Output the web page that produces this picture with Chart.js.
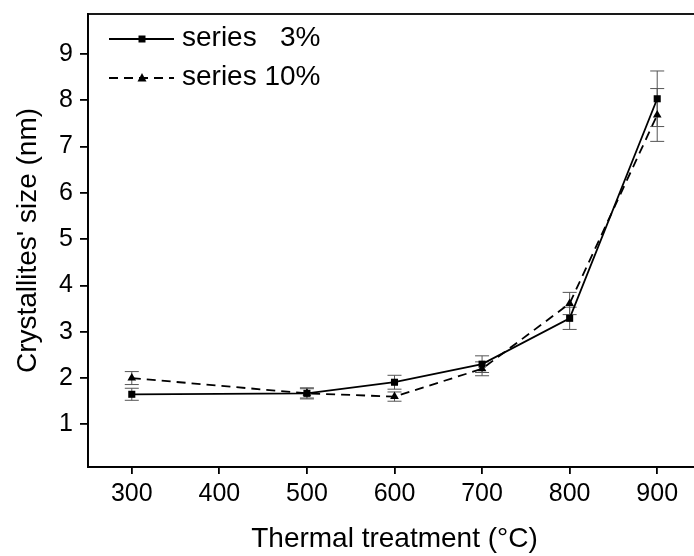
<!DOCTYPE html>
<html>
<head>
<meta charset="utf-8">
<script src="https://cdn.jsdelivr.net/npm/chart.js@4.4.1/dist/chart.umd.min.js"></script>
<style>
  html, body { margin: 0; padding: 0; background: #fff; overflow: hidden; }
  #wrap { width: 694px; height: 556px; overflow: hidden; }
</style>
</head>
<body>
<div id="wrap"><canvas id="c" width="720" height="556"></canvas></div>
<script>
// données
const temps = [300, 500, 600, 700, 800, 900];
const size3 = [1.65, 1.67, 1.91, 2.30, 3.29, 8.03];
const err3 = [0.13, 0.12, 0.15, 0.18, 0.24, 0.60];
const size10 = [2.00, 1.67, 1.60, 2.20, 3.61, 7.68];
const err10 = [0.14, 0.10, 0.10, 0.15, 0.24, 0.57];
const labels = ['series   3%', 'series 10%'];
const xTicks = [300, 400, 500, 600, 700, 800, 900];
const yTicks = [1, 2, 3, 4, 5, 6, 7, 8, 9];

const FONT = "'Liberation Sans', Arial, sans-serif";

function drawMarker(ctx, style, x, y) {
    ctx.beginPath();
    if (style === 'rect') {
        ctx.rect(x - 3.5, y - 3.5, 7, 7);
    } else {
        ctx.moveTo(x, y - 5);
        ctx.lineTo(x + 4.5, y + 3.5);
        ctx.lineTo(x - 4.5, y + 3.5);
        ctx.closePath();
    }
    ctx.fillStyle = '#000';
    ctx.fill();
}

// cadre autour de la zone du graphe
const framePlugin = {
    id: 'frame',
    afterDraw(chart) {
        const a = chart.chartArea, ctx = chart.ctx;
        ctx.save();
        ctx.strokeStyle = '#000';
        ctx.lineWidth = 1.8;
        ctx.strokeRect(a.left, a.top, a.right - a.left, a.bottom - a.top);
        ctx.restore();
    }
};

// barres d'erreur
const errorPlugin = {
    id: 'errbars',
    beforeDatasetsDraw(chart) {
        const ctx = chart.ctx, x = chart.scales.x, y = chart.scales.y;
        ctx.save();
        ctx.strokeStyle = '#555';
        ctx.lineWidth = 1;
        chart.data.datasets.forEach(ds => {
            ds.data.forEach((p, i) => {
                const e = ds.errors[i];
                const px = x.getPixelForValue(p.x);
                const top = y.getPixelForValue(p.y + e);
                const bot = y.getPixelForValue(p.y - e);
                ctx.beginPath();
                ctx.moveTo(px, top); ctx.lineTo(px, bot);
                ctx.moveTo(px - 7, top); ctx.lineTo(px + 7, top);
                ctx.moveTo(px - 7, bot); ctx.lineTo(px + 7, bot);
                ctx.stroke();
            });
        });
        ctx.restore();
    }
};

// légende dessinée à la main (ligne + marqueur)
const legendPlugin = {
    id: 'myLegend',
    afterDraw(chart) {
        const ctx = chart.ctx;
        const rows = [39, 78];
        ctx.save();
        chart.data.datasets.forEach((ds, i) => {
            const yy = rows[i];
            ctx.beginPath();
            ctx.strokeStyle = '#000';
            ctx.lineWidth = 1.8;
            ctx.setLineDash(ds.borderDash || []);
            ctx.moveTo(109, yy); ctx.lineTo(174, yy);
            ctx.stroke();
            ctx.setLineDash([]);
            drawMarker(ctx, ds.pointStyle, 142, yy);
            ctx.fillStyle = '#000';
            ctx.font = '28px ' + FONT;
            ctx.textBaseline = 'middle';
            ctx.fillText(ds.label, 182, yy - 1);
        });
        ctx.restore();
    }
};

const points = (xs, ys) => xs.map((v, i) => ({ x: v, y: ys[i] }));

new Chart(document.getElementById('c'), {
    type: 'line',
    data: {
        datasets: [
            {
                label: labels[0], data: points(temps, size3), errors: err3,
                borderColor: '#000', borderWidth: 1.8, pointStyle: 'rect',
                pointRadius: 5, pointBackgroundColor: '#000', pointBorderWidth: 0, tension: 0
            },
            {
                label: labels[1], data: points(temps, size10), errors: err10,
                borderColor: '#000', borderWidth: 1.8, borderDash: [9, 6], pointStyle: 'triangle',
                pointRadius: 5, pointBackgroundColor: '#000', pointBorderWidth: 0, tension: 0
            }
        ]
    },
    options: {
        responsive: false,
        animation: false,
        layout: { padding: { top: 14, right: 19, left: 0, bottom: 0 } },
        plugins: { legend: { display: false }, tooltip: { enabled: false } },
        scales: {
            x: {
                type: 'linear', min: 250, max: 950,
                afterBuildTicks: s => { s.ticks = xTicks.map(v => ({ value: v })); },
                afterFit: s => { s.height = 89; s.paddingLeft = 0; s.paddingRight = 0; },
                grid: { drawOnChartArea: false, drawTicks: true, tickLength: 7, color: '#000', lineWidth: 1.8 },
                border: { color: '#000', width: 1.8 },
                ticks: { color: '#000', font: { family: FONT, size: 25 }, padding: 5, maxRotation: 0 },
                title: { display: true, text: 'Thermal treatment (°C)', color: '#000', font: { family: FONT, size: 28 }, padding: { top: 0, bottom: 0 } }
            },
            y: {
                min: 0.08, max: 9.86,
                afterBuildTicks: s => { s.ticks = yTicks.map(v => ({ value: v })); },
                afterFit: s => { s.width = 88; s.paddingTop = 0; s.paddingBottom = 0; },
                grid: { drawOnChartArea: false, drawTicks: true, tickLength: 8, color: '#000', lineWidth: 1.8 },
                border: { color: '#000', width: 1.8 },
                ticks: { color: '#000', font: { family: FONT, size: 25 }, padding: 7 },
                title: { display: true, text: "Crystallites' size (nm)", color: '#000', font: { family: FONT, size: 28 }, padding: { top: 11, bottom: 0 } }
            }
        }
    },
    plugins: [errorPlugin, framePlugin, legendPlugin]
});
</script>
</body>
</html>
